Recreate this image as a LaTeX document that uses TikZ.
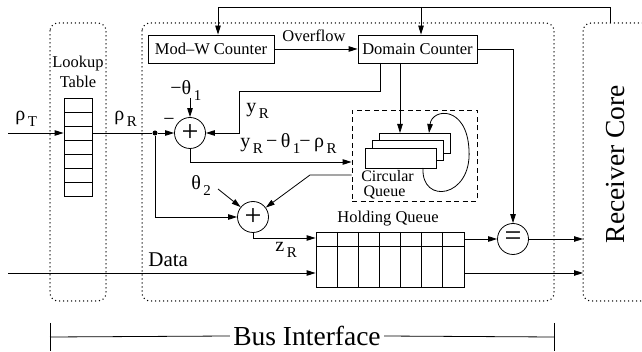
\documentclass[tikz,border=0pt]{standalone}
\usepackage{fontspec}
\setmainfont{Liberation Serif}
\usetikzlibrary{arrows.meta}
\newcommand{\sbs}[1]{\hspace{2.5pt}\raisebox{-5.5pt}{\fontsize{15}{15}\selectfont #1}}
\begin{document}
\begin{tikzpicture}[x=1pt,y=-1pt, line width=0.8pt,
  arr/.style={-{Triangle[length=9pt,width=5.5pt]}},
  txt/.style={font=\fontsize{16.5}{18}\selectfont, inner sep=0pt},
  lbl/.style={font=\fontsize{20}{22}\selectfont, inner sep=0pt, anchor=base west},
  blk/.style={draw, rectangle, inner sep=0pt, font=\fontsize{16.5}{18}\selectfont},
  sumc/.style={draw, circle, minimum size=31pt, inner sep=0pt, font=\fontsize{30}{30}\selectfont},
  region/.style={draw, line cap=round, dash pattern=on 0pt off 4pt, line width=1.5pt, rounded corners=8pt},
  dashbox/.style={draw, dash pattern=on 5pt off 3.5pt},
  dotc/.style={circle, fill, inner sep=0pt, minimum size=5pt},
]
\useasboundingbox (0,0) rectangle (642,352);
\clip (0,0) rectangle (642,352);

% regions
\draw[region] (50,23) rectangle (106,301);
\draw[region] (142,23) rectangle (554,301);
\draw[region] (583,23) rectangle (680,301);
\node[txt, rotate=90] (rc) at (616,164) {\fontsize{27.5}{28}\selectfont Receiver Core};

% lookup table
\node[txt, align=center, font=\fontsize{16.5}{20}\selectfont] (lutlbl) at (78,72) {Lookup\\Table};
\node[draw, rectangle, minimum width=28pt, minimum height=98pt, inner sep=0pt] (lut) at (78,147.5) {};
\foreach \k in {1,...,6} { \draw (64,98+14*\k) -- (92,98+14*\k); }

% inputs
\coordinate (inT) at (8,133);
\draw[arr] (inT) -- (lut.west |- inT);
\node[lbl] (rhoT) at (15,121) {ρ\sbs{T}};
\node[lbl] (rhoR) at (114,121) {ρ\sbs{R}};
\node[dotc] (dot) at (155,133) {};

% blocks
\node[blk, minimum width=126pt, minimum height=28pt] (modw) at (211,49) {Mod–W Counter};
\node[blk, minimum width=119pt, minimum height=28pt] (dom) at (417.5,49) {Domain Counter};
\node[sumc] (p1) at (190,133) {+};
\node[sumc] (p2) at (253,217) {+};
\node[sumc] (eq) at (513,239) {=};

% top feedback from receiver core
\coordinate (rtop) at (610,23);
\coordinate (ttop) at (610,7);
\coordinate (tl) at (218,7);
\coordinate (tm) at (421,7);
\draw[arr] (rtop) -- (ttop) -- (tl) -- (tl |- modw.north);
\draw[arr] (tm) -- (tm |- dom.north);

% overflow
\draw[arr] (modw.east) -- (dom.west);
\node[txt, anchor=base west] (ovf) at (282,42) {Overflow};

% rho_R path
\draw (lut.east |- inT) -- (dot);
\draw[arr] (dot) -- (p1.west);
\node[txt, anchor=base west, font=\fontsize{20}{20}\selectfont] (minus) at (163,126) {−};

% theta1
\coordinate (th1) at (190,98);
\draw[arr] (th1) -- (p1.north);
\node[lbl] (th1lbl) at (170,95) {−θ\sbs{1}};

% y_R from domain counter
\coordinate (d1) at (380,63);
\coordinate (d2) at (380,91);
\coordinate (d3) at (239,91);
\draw[arr] (d1) -- (d2) -- (d3) -- (d3 |- p1.east) -- (p1.east);
\node[lbl] (yR) at (246,113) {y\sbs{R}};

% circular queue
\node[dashbox, minimum width=125pt, minimum height=91pt, inner sep=0pt] (cq) at (414.5,155.5) {};
\node[draw, fill=white, minimum width=71pt, minimum height=20pt, inner sep=0pt] (c3) at (414.5,143) {};
\node[draw, fill=white, minimum width=71pt, minimum height=20pt, inner sep=0pt] (c2) at (407.5,150.5) {};
\node[draw, fill=white, minimum width=71pt, minimum height=20pt, inner sep=0pt] (c1) at (400.5,158) {};
\node[txt, anchor=base, font=\fontsize{16}{16}\selectfont] (cqlbl1) at (387.5,182) {Circular};
\node[txt, anchor=base, font=\fontsize{16}{16}\selectfont] (cqlbl2) at (384.5,196.5) {Queue};
\coordinate (lp) at (423,168);
\draw[arr] (lp) .. controls (421,205) and (472,198) .. (469,150) .. controls (467,105) and (432,108) .. (429,133);
\coordinate (d4) at (400,63);
\draw[arr] (d4) -- (400,133);

% p1 -> circular queue
\coordinate (q1) at (190,162);
\draw[arr] (p1.south) -- (q1) -- (cq.west |- q1);
\node[lbl] (diff) at (240,148) {y\sbs{R}\,−\,θ\sbs{1}\hspace{-1pt}−\,ρ\sbs{R}};

% circular queue -> p2
\coordinate (q2) at (310,175);
\draw[arr] (cq.west |- q2) -- (q2) -- (p2);

% theta2
\coordinate (th2) at (218,189);
\draw[arr] (th2) -- (p2);
\node[lbl] (th2lbl) at (191,190) {θ\sbs{2}};

% dot -> p2
\draw[arr] (dot) |- (p2.west);

% holding queue
\node[draw, rectangle, minimum width=148pt, minimum height=55pt, inner sep=0pt] (hq) at (390,259.5) {};
\draw (316,246) -- (464,246);
\foreach \k in {1,...,6} { \draw (316+21.14*\k,232) -- (316+21.14*\k,287); }
\node[txt] (hqlbl) at (388,219) {Holding Queue};

% z_R
\coordinate (z1) at (253,238);
\draw[arr] (p2.south) -- (z1) -- (hq.west |- z1);
\node[lbl] (zR) at (275,252) {z\sbs{R}};

% data
\coordinate (dat) at (8,273);
\draw[arr] (dat) -- (hq.west |- dat);
\node[txt, anchor=base west, font=\fontsize{21}{22}\selectfont] (datalbl) at (148,267) {Data};

% outputs
\draw[arr] (hq.east |- eq) -- (eq.west);
\draw[arr] (eq.east) -- (583,239);
\draw[arr] (hq.east |- dat) -- (583,273);
\coordinate (d5) at (513,49);
\draw[arr] (dom.east) -- (d5) -- (eq.north);

% bus interface
\node[txt, font=\fontsize{27.5}{28}\selectfont, fill=white, inner xsep=3pt] (bus) at (307,336) {Bus Interface};
\draw (50,337) -- (bus.west);
\draw (bus.east) -- (554,337);
\draw (50,323) -- (50,351);
\draw (554,323) -- (554,351);
\end{tikzpicture}
\end{document}
